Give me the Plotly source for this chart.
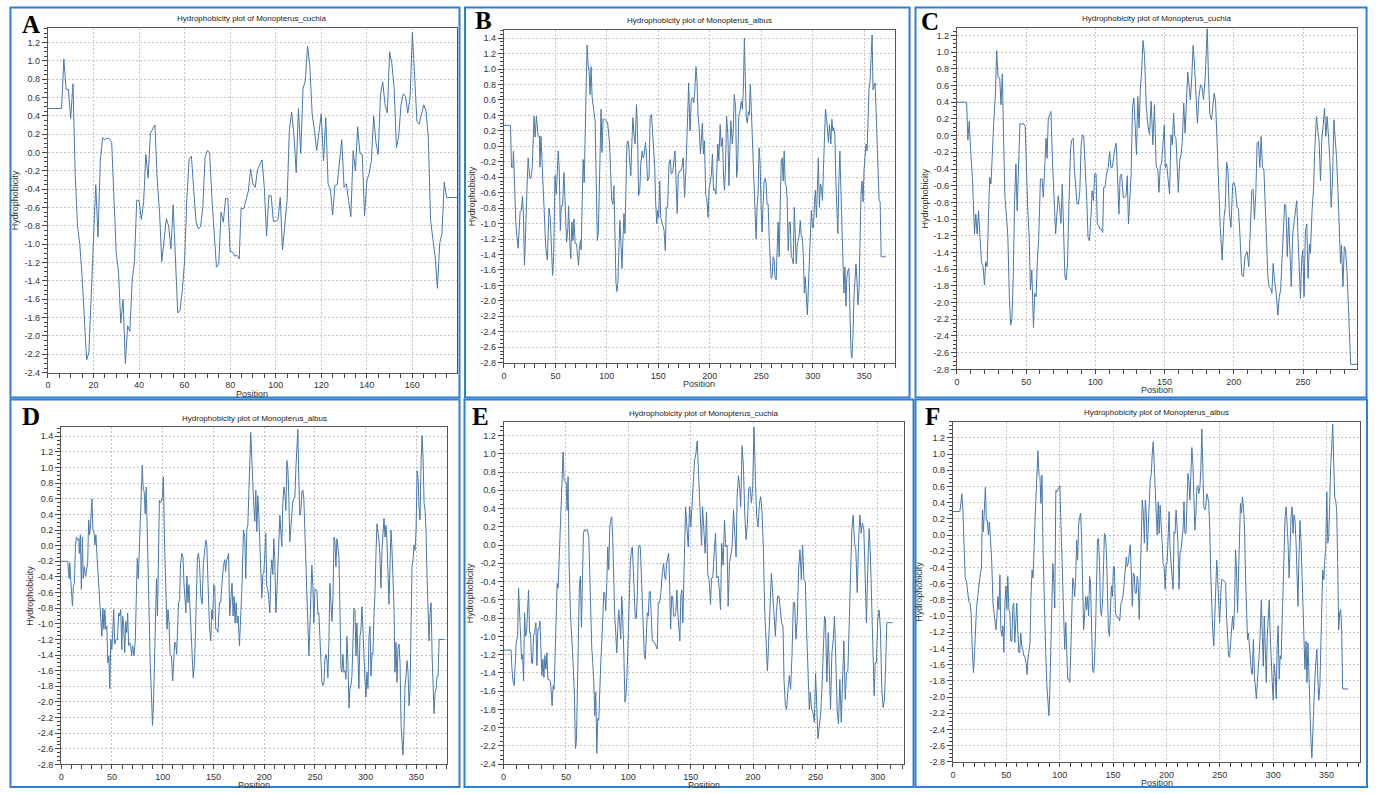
import plotly.graph_objects as go

# ---------------- data ----------------
TITLES = ["Hydrophobicity plot of Monopterus_cuchia", "Hydrophobicity plot of Monopterus_albus",
          "Hydrophobicity plot of Monopterus_cuchia", "Hydrophobicity plot of Monopterus_albus",
          "Hydrophobicity plot of Monopterus_cuchia", "Hydrophobicity plot of Monopterus_albus"]
LETTERS = ["A", "B", "C", "D", "E", "F"]

A_pos = [0, 6, 7, 8, 9, 10, 11, 12, 13, 14, 15, 16, 17, 18, 19, 20, 21, 22, 23, 24, 25, 26, 27, 28, 29, 30, 31, 32, 33, 34,
         35, 36, 37, 38, 39, 40, 41, 42, 43, 44, 45, 46, 47, 48, 49, 50, 51, 52, 53, 54, 55, 56, 57, 58, 59, 60, 61, 62, 63,
         64, 65, 66, 67, 68, 69, 70, 71, 72, 73, 74, 75, 76, 77, 78, 79, 80, 81, 82, 83, 84, 84.8, 86, 88, 89, 90, 91, 92,
         93, 94, 95, 96, 97, 98, 99, 100, 101, 102, 103, 104, 105, 106, 107, 108, 109, 110, 111, 112, 113, 114, 115, 116,
         117, 118, 119, 120, 121, 122, 123, 124, 125, 126, 127, 128, 129, 130, 131, 132, 133, 134, 135, 136, 137, 138, 139,
         140, 141, 142, 143, 144, 145, 146, 147, 148, 149, 150, 151, 152, 153, 154, 155, 156, 157, 158, 159, 160, 161, 162,
         163, 164, 165, 166, 167, 168, 169, 170, 171, 172, 173, 174, 175, 180]
A_hyd = [0.48, 0.48, 1.02, 0.69, 0.69, 0.37, 0.75, -0.25, -0.8, -1.0, -1.35, -1.75, -2.26, -2.18, -1.5, -0.9, -0.35, -0.92,
         -0.1, 0.16, 0.14, 0.16, 0.15, 0.11, -0.5, -1.1, -1.3, -1.86, -1.6, -2.3, -1.89, -1.95, -1.39, -1.19, -0.52, -0.52,
         -0.73, -0.55, -0.02, -0.28, 0.21, 0.25, 0.3, -0.3, -0.65, -1.19, -0.95, -0.72, -0.8, -1.05, -0.57, -1.2, -1.75,
         -1.72, -1.5, -1.19, -0.5, -0.07, -0.04, -0.4, -0.75, -0.83, -0.81, -0.6, -0.05, 0.02, 0.0, -0.5, -0.95, -1.25,
         -1.22, -0.65, -0.76, -0.5, -0.5, -1.08, -1.08, -1.13, -1.12, -1.16, -0.61, -0.61, -0.42, -0.18, -0.34, -0.38,
         -0.19, -0.14, -0.08, -0.38, -0.91, -0.47, -0.47, -0.75, -0.75, -0.73, -0.49, -1.06, -0.78, -0.52, 0.25, 0.44, 0.2,
         -0.22, 0.48, -0.01, 0.7, 0.78, 1.16, 0.94, 0.42, 0.25, 0.02, 0.24, 0.42, -0.09, 0.38, -0.34, -0.4, -0.68, -0.36,
         -0.35, -0.13, 0.14, -0.38, -0.34, -0.52, -0.7, 0.02, -0.2, 0.28, -0.01, -0.02, -0.69, -0.31, -0.23, -0.09, 0.4,
         0.11, -0.02, 0.63, 0.77, 0.52, 0.43, 1.1, 0.97, 0.7, 0.05, 0.18, 0.52, 0.64, 0.61, 0.43, 0.6, 1.31, 0.88, 0.34,
         0.31, 0.43, 0.52, 0.45, 0.16, -0.74, -0.92, -1.14, -1.48, -0.99, -0.88, -0.32, -0.49, -0.49]

B_pts = [(0, 0.27), (6.4, 0.27), (7.4, -0.27), (8.7, -0.28), (9.3, -0.06), (10.6, -0.83), (11.6, -1.0), (12.9, -1.2),
         (13.8, -1.32), (15.8, -0.84), (17, -0.83), (18, -0.65), (19, -0.92), (20, -1.54), (21.3, -0.79), (22.2, -0.65),
         (23.5, -0.15), (25, -0.4), (26, -0.42), (27.4, -0.3), (29.3, 0.39), (30.3, 0.12), (31.6, 0.39), (33.2, 0.13),
         (34.5, 0.13), (35, -0.27), (36, 0.13), (37.4, -0.36), (38.3, -0.66), (39.6, -0.92), (40.6, -1.3), (42.2, -1.47),
         (43.8, -0.8), (45, -0.92), (46.4, -1.47), (47.3, -1.67), (48.3, -1.43), (49.6, -0.38), (50.9, -0.62),
         (51.9, -0.32), (52.8, -0.06), (53.8, -0.32), (54.8, -1.09), (55.7, -0.77), (57, -0.77), (58.3, -0.34),
         (59.3, -0.62), (60.9, -1.24), (62.2, -1.05), (62.8, -0.77), (64.1, -1.28), (65, -1.45), (66, -0.98), (67, -1.22),
         (68, -0.94), (69.2, -1.26), (70.5, -1.26), (71.8, -1.43), (72.5, -1.54), (73.4, -1.32), (74.4, -1.22),
         (75, -1.34), (76, -0.75), (77, -0.17), (78, -0.47), (78.9, 0.2), (79.9, 0.67), (80.8, 1.31), (81.8, 1.05),
         (82.8, 0.97), (83.7, 0.67), (84.7, 1.03), (85.7, 0.63), (87, 0.5), (88.6, 0.33), (89.5, -0.32), (90.8, -1.22),
         (91.8, -1.09), (93, -0.23), (94.4, 0.48), (95.3, -0.08), (96.3, 0.35), (97.6, 0.35), (99.5, 0.33), (100.8, 0.3),
         (102.7, 0.03), (104.7, -0.7), (106, -0.75), (106.9, -0.51), (107.9, -1.43), (108.9, -1.77), (109.8, -1.88),
         (110.8, -1.75), (111.8, -1.3), (112.7, -0.96), (113.7, -1.26), (114.7, -1.58), (115.6, -1.22), (116.6, -0.87),
         (117.6, -1.13), (118.8, -0.49), (119.5, 0.03), (120.8, 0.07), (122, -0.23), (123.3, -0.38), (124.3, 0.05),
         (125.3, 0.37), (126.6, 0.11), (127.5, 0.03), (128.8, 0.54), (129.8, 0.2), (130.8, -0.64), (132, -0.57),
         (133, -0.23), (134.3, -0.06), (135.3, -0.15), (136.2, -0.12), (137.5, 0.05), (138.5, -0.1), (139.5, -0.45),
         (141, -0.4), (142, 0.37), (143.3, 0.41), (144.3, 0.22), (145.2, -0.02), (146.5, -0.27), (147.5, -0.75),
         (148.5, -1.0), (149.4, -0.83), (150.4, -0.92), (151.4, -0.45), (152.3, -0.92), (154, -1.0), (155.6, -1.09),
         (156.8, -1.35), (157.8, -0.79), (159, -0.79), (160.4, -0.23), (161.7, -0.17), (162.6, -0.36), (163.9, -0.34),
         (165.2, -0.15), (166.2, -0.06), (167.1, -0.4), (168.4, -0.87), (169.4, -0.36), (170.7, -0.32), (171.7, -0.32),
         (172.9, -0.27), (174.2, -0.15), (175.5, -0.66), (176.8, -0.32), (178.1, 0.37), (179.5, 0.82), (180.5, 0.28),
         (181, 0.2), (182, 0.6), (183.4, 0.63), (184.4, 0.56), (185.3, 0.69), (186.6, 1.03), (187.6, 0.84), (188.6, 0.41),
         (189.9, 0.2), (190.9, -0.1), (191.9, 0.11), (192.8, 0.3), (193.8, -0.1), (194.8, 0.07), (196.1, -0.64),
         (197, -0.66), (198.4, -0.92), (199.3, -0.55), (200.3, -0.49), (201.6, -0.36), (202.6, -0.1), (203.6, -0.57),
         (204.9, -0.55), (205.9, -0.62), (206.8, -0.32), (207.8, 0.03), (208.8, -0.19), (210.1, 0.28), (211.1, 0.0),
         (212.4, 0.11), (213.4, -0.4), (214.3, -0.57), (215.3, -0.27), (216.3, 0.39), (217.6, 0.15), (218.6, -0.51),
         (219.5, -0.06), (220.5, 0.33), (221.8, 0.03), (222.8, 0.18), (223.8, 0.67), (225.1, 0.5), (226.1, -0.4),
         (227, -0.27), (228.3, 0.41), (229.3, 0.45), (230.6, 0.58), (231.6, 0.48), (232.6, 0.71), (233.6, 1.4),
         (234.5, 0.88), (235.5, 0.37), (236.5, 0.3), (237.5, 0.45), (238.4, 0.41), (239.4, 0.8), (240.4, 0.45),
         (241.7, 0.03), (243, -0.57), (244, -0.83), (245, -1.2), (245.9, -0.79), (246.9, -0.64), (247.9, -0.02),
         (248.9, -0.23), (249.8, -0.75), (250.8, -1.11), (251.8, -0.75), (252.8, -0.45), (253.7, -0.42), (254.7, -0.47),
         (255.7, -0.75), (256.7, -0.75), (257.7, -1.17), (258.6, -1.56), (259.6, -1.71), (260.6, -1.69), (261.6, -1.43),
         (262.5, -1.47), (263.5, -1.71), (264.5, -1.73), (265.5, -1.35), (266.4, -0.98), (267.4, -1.43), (268.4, -0.75),
         (269.4, -0.19), (270.4, -0.15), (271.3, -0.45), (272.3, -0.06), (273.3, -0.49), (274.3, -0.51), (275.2, -0.7),
         (276.2, -1.35), (277.2, -0.98), (278.2, -0.98), (279.2, -1.43), (280.1, -1.45), (281.1, -1.52), (282.1, -0.79),
         (283.1, -1.17), (284, -1.52), (285, -1.26), (286, -1.22), (287, -1.13), (287.9, -0.96), (288.9, -1.17),
         (289.9, -1.17), (290.9, -1.43), (291.9, -1.9), (292.8, -1.69), (293.8, -1.9), (294.8, -2.18), (295.8, -1.82),
         (296.7, -1.52), (297.7, -1.35), (298.7, -0.83), (299.7, -1.05), (300.7, -1.05), (301.6, -0.77), (302.6, -0.57),
         (303.6, -0.92), (304.6, -0.53), (305.5, -0.15), (306.5, -0.79), (307.5, -0.49), (308.5, -0.53), (309.5, -0.7),
         (310.4, -0.3), (311.4, 0.11), (312.4, 0.48), (313.4, 0.37), (314.3, 0.13), (315.3, 0.05), (316.3, 0.28),
         (317.6, 0.03), (318.6, 0.35), (319.5, 0.2), (320.5, 0.24), (321.5, 0.15), (322.5, -0.45), (323.5, -0.83),
         (324.4, -1.13), (325.4, -0.45), (326.4, -0.06), (327.4, -0.57), (328.4, -1.17), (329.3, -1.6), (330.3, -1.9),
         (331.3, -1.56), (332.3, -2.07), (333.2, -1.69), (334.2, -1.6), (335.2, -1.58), (336.2, -2.29), (337.1, -2.63),
         (338.1, -2.74), (339.1, -2.46), (340.1, -1.95), (341, -1.73), (342, -1.52), (343, -1.73), (344, -2.05),
         (345, -1.86), (345.9, -1.26), (346.9, -0.62), (347.9, -0.45), (348.9, -0.72), (349.8, -0.32), (350.8, -0.15),
         (351.8, 0.03), (352.8, -0.06), (353.7, 0.28), (354.7, 0.75), (355.7, 0.84), (356.7, 1.18), (357.7, 1.44),
         (358.6, 0.73), (359.6, 0.78), (360.6, 0.82), (361.6, 0.45), (362.5, 0.11), (363.5, -0.23), (364.5, -0.7),
         (365.5, -0.72), (366.5, -1.43), (371, -1.43)]

C_pts = [(0, 0.4), (7, 0.4), (7.9, -0.05), (8.9, 0.17), (9.8, -0.15), (11.2, -0.5), (12.7, -1.18), (13.6, -0.94),
         (14.6, -1.18), (15.6, -0.9), (16.7, -1.22), (17.7, -1.51), (18.9, -1.57), (19.9, -1.79), (20.8, -1.51),
         (21.8, -1.57), (22.7, -1.02), (23.7, -0.5), (24.6, -0.58), (25.6, -0.15), (26.6, 0.17), (27.8, 0.49),
         (28.7, 1.02), (29.7, 0.7), (30.9, 0.69), (31.8, 0.37), (32.8, 0.74), (33.7, -0.03), (34.7, -0.74), (35.9, -0.98),
         (36.8, -1.22), (37.8, -1.9), (38.8, -2.27), (39.7, -2.2), (40.7, -1.69), (41.6, -0.82), (42.6, -0.34),
         (43.5, -0.9), (44.5, -0.3), (45.5, 0.15), (46.7, 0.13), (47.8, 0.15), (49.3, 0.11), (50.2, -0.42), (51.2, -0.9),
         (52.2, -1.22), (53.1, -1.85), (54.1, -1.61), (55.3, -2.3), (56.2, -1.89), (57.2, -1.93), (58.1, -1.49),
         (59.1, -1.22), (60.3, -0.52), (61.5, -0.52), (62.4, -0.74), (63.4, -0.42), (64.4, -0.03), (65.1, -0.27),
         (66, 0.21), (67, 0.25), (67.9, 0.29), (69.1, -0.34), (70.3, -0.9), (71.3, -1.18), (72.2, -0.94), (73.2, -0.72),
         (74.2, -0.86), (75.1, -1.05), (76.1, -0.58), (77, -1.22), (78, -1.69), (78.9, -1.73), (79.9, -1.53),
         (80.9, -0.82), (82.1, -0.15), (83, -0.05), (84, -0.03), (84.9, -0.42), (85.9, -0.7), (86.8, -0.82),
         (87.8, -0.82), (88.8, -0.66), (89.7, -0.11), (90.7, 0.01), (91.6, -0.01), (92.6, -0.34), (93.8, -0.78),
         (94.7, -1.22), (95.7, -1.26), (96.7, -1.02), (97.6, -0.66), (98.6, -0.78), (99.5, -0.46), (100.5, -0.46),
         (101.4, -1.06), (102.4, -1.08), (103.3, -1.12), (104.5, -1.12), (105.3, -1.16), (106, -0.62), (106.9, -0.62),
         (108.1, -0.46), (109.3, -0.38), (110.3, -0.19), (111.2, -0.38), (112.2, -0.38), (113.2, -0.21), (114.1, -0.15),
         (115.1, -0.09), (116, -0.42), (117, -0.94), (117.9, -0.48), (118.9, -0.46), (120.1, -0.74), (121.3, -0.74),
         (122.2, -0.72), (123, -0.48), (123.9, -1.06), (124.9, -0.82), (125.8, -0.48), (126.8, 0.33), (127.8, 0.45),
         (128.7, 0.13), (129.7, -0.23), (130.6, 0.47), (131.6, 0.09), (132.5, 0.57), (133.3, 0.74), (134.4, 1.14),
         (135.5, 0.96), (136.7, 0.37), (137.9, 0.13), (139.1, 0.01), (140.3, 0.41), (141.5, -0.11), (142.7, 0.37),
         (143.9, -0.36), (145.2, -0.42), (145.9, -0.68), (146.9, -0.36), (147.8, -0.34), (148.8, -0.15), (149.8, 0.13),
         (150.5, -0.38), (151.5, -0.34), (152.4, -0.5), (153.6, -0.7), (154.6, 0.01), (155.6, -0.11), (156.5, 0.27),
         (157.3, -0.01), (158.2, -0.03), (159.2, -0.38), (159.9, -0.68), (160.9, -0.3), (161.9, -0.23), (162.8, -0.07),
         (163.8, 0.39), (164.8, 0.03), (165.7, 0.41), (166.7, 0.76), (167.7, 0.59), (168.6, 0.43), (169.6, 0.69),
         (170.6, 1.08), (171.5, 0.88), (172.5, 0.49), (173.7, 0.15), (174.7, 0.45), (175.9, 0.61), (177.1, 0.57),
         (178.1, 0.43), (179.3, 0.69), (180.8, 1.28), (181.7, 0.69), (182.7, 0.25), (183.9, 0.19), (185.1, 0.41),
         (185.8, 0.51), (186.8, 0.41), (187.8, -0.03), (189, -0.74), (190.2, -1.1), (191.6, -1.49), (192.9, -0.98),
         (193.8, -0.86), (194.8, -0.32), (195.8, -0.42), (196.7, -0.9), (197.9, -1.1), (199.2, -0.58), (200.1, -0.56),
         (201.1, -0.62), (202.3, -0.86), (203.3, -0.87), (204.5, -1.22), (205.7, -1.67), (206.9, -1.69), (208.1, -1.45),
         (209.6, -1.39), (210.8, -1.57), (211.7, -1.22), (213, -0.66), (213.9, -0.64), (214.9, -1.0), (215.9, -0.68),
         (216.8, -0.09), (217.8, -0.07), (218.8, -0.38), (219.7, -0.01), (220.7, -0.38), (221.7, -0.4), (222.6, -0.78),
         (223.6, -1.33), (224.6, -1.69), (225.5, -1.81), (226.5, -1.83), (227.5, -1.89), (228.4, -1.53), (229.4, -1.73),
         (230.6, -1.89), (231.8, -2.15), (232.8, -1.93), (233.8, -1.85), (234.7, -1.53), (235.7, -1.22), (236.7, -0.82),
         (237.6, -0.84), (238.6, -1.45), (239.6, -0.98), (240.6, -1.45), (241.5, -1.81), (242.5, -1.18), (243.5, -1.06),
         (244.4, -0.94), (245.4, -0.78), (246.4, -1.22), (247.3, -1.53), (248.1, -1.95), (249, -1.49), (249.8, -1.37),
         (250.7, -1.93), (251.7, -1.14), (252.7, -1.06), (253.6, -1.71), (254.6, -1.3), (255.3, -1.41), (256.5, -0.9),
         (257.5, -0.66), (258.5, -0.15), (259.7, 0.23), (260.7, 0.05), (261.6, -0.07), (262.6, -0.54), (263.6, -0.03),
         (264.5, 0.11), (265.5, 0.33), (266.5, -0.01), (267.4, 0.23), (268.4, -0.01), (269.4, -0.3), (270.3, -0.86),
         (271.3, -0.52), (272.3, 0.19), (273.2, 0.01), (274.2, -0.27), (275.2, -0.66), (276.1, -1.06), (277.1, -1.53),
         (277.8, -1.31), (278.8, -1.81), (279.8, -1.33), (280.7, -1.37), (281.7, -1.61), (282.7, -2.01), (283.7, -2.4),
         (284.4, -2.74), (289.2, -2.74)]

D_pts = [(0, -0.2), (6.5, -0.2), (7.8, -0.42), (8.5, -0.22), (9.5, -0.46), (10.4, -0.67), (11.1, -0.77), (12, -0.52),
         (13, -0.48), (14, -0.01), (15, 0.11), (16.3, 0.07), (17.3, 0.09), (17.9, -0.1), (18.9, 0.14), (19.9, -0.56),
         (20.9, 0.11), (21.8, -0.42), (22.8, -0.27), (24.1, -0.39), (25.1, -0.31), (26.1, -0.22), (27.1, 0.33), (28, 0.14),
         (29, 0.28), (30.3, 0.6), (31.3, 0.2), (32.3, 0.18), (33.3, 0.01), (34.2, 0.14), (35.5, -0.18), (36.5, -0.42),
         (37.8, -0.73), (39.1, -1.07), (40.1, -1.16), (41.1, -0.8), (42.1, -1.07), (43, -0.82), (44, -1.07), (45, -1.03),
         (46, -1.5), (47, -1.41), (47.9, -1.83), (48.9, -1.2), (49.9, -1.33), (50.9, -1.07), (51.8, -0.82), (52.8, -1.26),
         (54.1, -1.2), (55.4, -1.2), (56.7, -0.86), (57.7, -0.9), (58.7, -0.82), (59.7, -1.33), (60.6, -0.9),
         (61.6, -1.03), (62.6, -1.37), (63.6, -0.97), (64.6, -1.11), (65.5, -0.86), (66.5, -1.28), (67.5, -1.24),
         (68.5, -1.28), (69.4, -1.41), (70.4, -1.28), (71.7, -1.41), (73, -1.22), (74, -0.69), (75, -0.16), (76, -0.42),
         (77, -0.06), (77.9, 0.37), (78.9, 0.75), (79.9, 1.03), (80.9, 0.71), (81.8, 0.69), (82.8, 0.41), (83.8, 0.75),
         (85.1, 0.03), (86.4, -0.82), (87.7, -1.5), (89, -1.92), (90, -2.3), (91, -2.0), (91.9, -1.41), (92.9, -0.82),
         (93.9, -0.42), (94.9, -0.9), (95.9, -0.01), (96.8, 0.58), (97.8, 0.55), (98.8, 0.57), (99.8, 0.62), (100.7, 0.88),
         (101.7, 0.11), (103, -0.65), (104.3, -1.07), (105.3, -0.82), (106.3, -0.99), (107.3, -1.39), (108.6, -1.41),
         (109.9, -1.73), (110.9, -1.5), (111.8, -1.24), (112.8, -1.24), (113.8, -1.39), (114.8, -1.03), (115.7, -0.73),
         (116.7, -0.69), (117.7, -0.22), (119, -0.1), (120, -0.14), (121, -0.48), (121.9, -0.61), (122.9, -0.86),
         (123.9, -0.39), (124.9, -0.73), (125.9, -0.5), (126.8, -0.82), (127.8, -0.99), (129.1, -1.41), (130.1, -1.69),
         (131.4, -1.5), (132.4, -1.07), (133.4, -0.48), (134.3, -0.14), (135.3, -0.1), (136.3, -0.22), (137.6, -0.65),
         (138.9, -0.75), (140.2, -0.22), (141.5, 0.01), (142.5, 0.07), (143.5, 0.01), (144.8, -0.52), (146.1, -1.03),
         (147.4, -1.22), (148.4, -0.82), (149.3, -0.94), (150.3, -0.5), (151.3, -0.52), (152.3, -1.07), (153.2, -1.07),
         (154.5, -1.11), (155.9, -0.73), (157.2, -0.73), (158.5, -0.48), (159.8, -0.27), (161.1, -0.18), (162, -0.33),
         (163, -0.2), (164, -0.14), (165, -0.1), (166, -0.9), (166.9, -0.69), (168.4, -0.48), (169.4, -0.9),
         (170.4, -0.65), (171.4, -0.99), (172.4, -0.73), (173.4, -0.99), (174.3, -0.9), (175.7, -1.28), (177, -0.86),
         (178.3, -0.48), (179.6, 0.2), (180.9, 0.11), (181.9, -0.42), (182.9, 0.2), (183.9, 0.26), (184.9, 0.67),
         (185.9, 1.03), (186.8, 1.45), (187.8, 1.13), (188.8, 0.71), (189.8, 0.5), (190.8, 0.31), (191.8, 0.71),
         (192.8, 0.18), (193.8, 0.64), (194.7, 0.41), (195.7, -0.01), (196.7, -0.52), (197.7, -0.67), (198.7, -0.37),
         (199.7, -0.35), (200.7, -0.1), (201.6, 0.16), (202.6, -0.52), (203.6, -0.56), (204.6, -0.69), (205.6, -0.86),
         (206.6, -0.33), (207.6, -0.18), (208.6, -0.37), (209.5, 0.09), (210.5, -0.18), (211.5, -0.86), (212.5, -0.61),
         (213.5, -0.22), (214.5, -0.06), (215.5, 0.39), (216.4, 0.2), (217.4, -0.01), (218.4, 0.54), (219.4, 0.75),
         (220.4, 0.67), (221.4, 0.45), (222.4, 1.09), (223.4, 0.98), (224.3, 0.62), (225.3, 0.05), (226.3, 0.22),
         (227.3, 0.5), (228.3, 0.58), (229.3, 0.6), (230.3, 0.62), (231.3, 1.0), (232.2, 1.17), (233.2, 1.49),
         (234.2, 0.83), (235.2, 0.39), (236.2, 0.45), (237.2, 0.69), (238.2, 0.71), (239.1, 0.6), (240.1, 0.2),
         (241.1, -0.22), (242.1, -0.82), (243.1, -1.16), (244.1, -1.41), (245.1, -1.03), (246.1, -0.65), (247, -0.25),
         (248, -0.52), (249, -0.99), (250, -0.56), (251, -0.56), (252, -0.58), (253, -0.88), (253.9, -0.86),
         (254.9, -1.16), (255.9, -1.58), (256.9, -1.75), (257.9, -1.79), (258.9, -1.75), (259.9, -1.45), (260.9, -1.39),
         (261.8, -1.45), (262.8, -1.69), (263.8, -1.24), (264.8, -0.48), (265.8, -0.73), (266.8, -0.97), (267.8, -0.65),
         (268.8, 0.11), (269.7, 0.07), (270.7, -0.27), (271.7, 0.09), (272.7, -0.03), (273.7, -0.14), (274.7, -0.82),
         (275.7, -1.58), (276.6, -1.62), (277.6, -1.39), (278.6, -1.62), (279.6, -1.6), (280.6, -1.71), (281.6, -1.16),
         (282.6, -1.5), (283.6, -2.08), (284.5, -1.83), (285.5, -1.79), (286.5, -1.67), (287.5, -1.33), (288.5, -0.8),
         (289.5, -0.82), (290.5, -1.41), (291.4, -0.99), (292.4, -1.54), (293.4, -1.83), (294.4, -1.16), (295.4, -1.07),
         (296.4, -0.78), (297.4, -1.16), (298.4, -1.5), (299.3, -1.71), (300.3, -1.94), (301.3, -1.62), (302.3, -1.83),
         (303.3, -1.16), (304.3, -1.03), (305.3, -1.67), (306.3, -1.37), (307.2, -1.39), (308.2, -0.9), (309.2, -0.61),
         (310.2, -0.1), (311.2, 0.28), (312.2, 0.16), (313.2, 0.07), (314.1, -0.14), (315.1, -0.54), (316.1, -0.06),
         (317.1, 0.26), (318.1, 0.35), (319.1, 0.11), (320.1, 0.26), (321.1, 0.03), (322, -0.48), (323, -0.75),
         (324, -0.27), (325, 0.2), (326, -0.06), (327, -0.35), (328, -0.82), (328.9, -1.62), (329.9, -1.24),
         (330.9, -1.75), (331.9, -1.31), (332.9, -1.26), (333.9, -1.5), (334.9, -2.3), (335.9, -2.53), (336.8, -2.68),
         (337.8, -2.34), (338.8, -1.79), (339.8, -1.67), (340.8, -1.47), (341.8, -1.62), (342.8, -2.05), (343.8, -1.83),
         (344.7, -1.07), (345.7, -0.27), (346.7, -0.18), (347.7, 0.01), (348.7, -0.06), (349.7, 0.2), (350.7, 0.96),
         (351.6, 0.88), (352.6, 0.5), (353.6, 0.33), (354.6, 1.05), (355.6, 1.41), (356.6, 1.13), (357.6, 0.54),
         (358.6, 0.45), (359.5, 0.2), (360.5, -0.39), (361.5, -0.9), (362.5, -1.22), (363.5, -0.86), (364.5, -0.73),
         (365.5, -1.41), (366.4, -1.75), (367.4, -2.15), (368.4, -1.88), (369.4, -1.83), (370.4, -1.67), (371.4, -1.67),
         (372.4, -1.2), (377.6, -1.2)]

E_pts = [(0, -1.15), (6, -1.15), (6.7, -1.36), (7.5, -1.49), (8.5, -1.54), (9.3, -1.36), (10.1, -1.07), (11.2, -1.0),
         (12, -0.47), (12.8, -0.74), (13.6, -1.14), (14.4, -1.25), (15.2, -1.2), (16, -1.49), (16.8, -0.74), (17.6, -1.0),
         (18.4, -0.96), (19.2, -0.74), (20, -0.49), (20.8, -0.96), (21.6, -0.96), (22.4, -1.29), (23.2, -1.3), (24, -1.0),
         (24.8, -0.96), (25.9, -0.85), (26.7, -1.32), (27.5, -0.92), (28.3, -0.92), (29.1, -0.83), (29.9, -1.25),
         (30.7, -1.43), (31.5, -1.25), (32.3, -1.45), (33.1, -1.21), (33.9, -1.36), (34.7, -1.18), (35.5, -1.47),
         (36.5, -1.47), (37.6, -1.5), (38.4, -1.65), (38.9, -1.76), (39.7, -1.54), (40.5, -1.58), (41.3, -1.21),
         (42.1, -0.85), (42.9, -0.42), (43.7, -0.47), (44.5, -0.13), (45.3, 0.17), (46.1, 0.42), (46.9, 0.71), (47.7, 1.02),
         (48.5, 0.71), (49.3, 0.69), (50.1, 0.69), (50.9, 0.38), (51.7, 0.75), (52.5, -0.2), (53.6, -0.74), (54.7, -1.0),
         (55.7, -1.29), (56.8, -1.65), (57.6, -2.23), (58.4, -2.14), (59.2, -1.5), (60, -0.92), (60.8, -0.42),
         (61.6, -0.34), (62.4, -0.9), (63.2, -0.38), (64, 0.13), (64.8, 0.17), (65.6, 0.15), (66.4, 0.17), (67.2, 0.17),
         (68.3, 0.09), (69.1, -0.38), (69.9, -0.85), (70.7, -1.14), (71.5, -1.29), (72.3, -1.5), (73.1, -1.87),
         (73.9, -1.61), (74.7, -2.28), (75.5, -1.9), (76.3, -1.92), (77.1, -1.47), (77.9, -1.29), (78.7, -1.07),
         (79.5, -0.63), (80.3, -0.52), (81.1, -0.52), (81.9, -0.72), (82.7, -0.42), (83.5, -0.02), (84.3, -0.27),
         (85.1, 0.2), (85.9, 0.27), (86.7, 0.31), (87.5, 0.06), (88.3, -0.42), (89.1, -0.78), (89.9, -0.96), (90.7, -1.18),
         (91.5, -0.92), (92.3, -0.71), (93.1, -0.85), (93.9, -1.03), (94.7, -0.56), (95.5, -0.78), (96.5, -1.25),
         (97.3, -1.72), (98.1, -1.65), (98.9, -1.43), (100, -0.96), (100.8, -0.42), (101.6, -0.2), (102.4, -0.05),
         (103.2, -0.02), (104, -0.27), (104.8, -0.56), (105.6, -0.81), (106.4, -0.8), (107.2, -0.56), (108, -0.05),
         (108.8, 0.0), (109.6, -0.02), (110.4, -0.34), (111.2, -0.74), (112, -1.0), (112.8, -1.21), (113.6, -1.25),
         (114.4, -0.92), (115.2, -0.74), (116, -0.78), (116.8, -0.51), (117.6, -0.51), (118.4, -0.85), (119.2, -1.05),
         (120.3, -1.05), (121.3, -1.09), (122.4, -1.11), (123.2, -1.14), (124, -0.63), (125.1, -0.63), (126.1, -0.52),
         (127.2, -0.31), (128.3, -0.2), (129.1, -0.34), (129.9, -0.38), (130.7, -0.2), (131.5, -0.16), (132.3, -0.09),
         (133.1, -0.42), (133.9, -0.92), (134.7, -0.56), (135.5, -0.56), (136.3, -0.78), (137.3, -0.78), (138.1, -0.74),
         (138.9, -0.49), (139.7, -0.74), (140.5, -0.92), (141.3, -1.05), (142.1, -0.56), (142.9, -0.49), (143.7, -0.85),
         (144.8, -0.2), (145.9, 0.42), (148, -0.02), (149.1, 0.42), (150.1, 0.2), (151.2, 0.49), (152, 0.71),
         (153.1, 0.93), (154.1, 1.0), (155.2, 1.14), (156.3, 0.78), (157.3, 0.42), (158.7, 0.0), (159.5, 0.42),
         (160.5, 0.17), (161.6, -0.09), (162.7, 0.36), (163.7, -0.32), (164.8, -0.38), (165.9, -0.65), (166.7, -0.36),
         (167.7, -0.36), (168.8, -0.09), (169.9, 0.13), (170.9, -0.36), (172, -0.34), (173.1, -0.52), (173.9, -0.71),
         (174.9, 0.02), (176, -0.22), (177.1, 0.27), (178.1, -0.02), (179.2, 0.0), (180, -0.67), (181.1, -0.2),
         (182.1, -0.13), (183.2, -0.02), (184.3, 0.38), (185.3, 0.06), (186.4, -0.13), (187.2, 0.53), (188.3, 0.76),
         (189.3, 0.62), (190.1, 0.42), (191.2, 1.09), (192.3, 0.85), (193.3, 0.35), (194.4, 0.06), (195.5, 0.24),
         (196.5, 0.62), (197.6, 0.64), (198.7, 0.46), (199.7, 0.64), (200.8, 1.29), (201.9, 0.71), (202.9, 0.31),
         (204, 0.2), (205.1, 0.46), (206.1, 0.53), (207.2, 0.36), (208.3, -0.05), (209.3, -0.71), (210.4, -1.03),
         (211.5, -1.38), (212.5, -1.07), (213.6, -0.71), (214.7, -0.31), (215.7, -0.52), (216.8, -0.71), (217.9, -1.0),
         (218.7, -0.74), (219.7, -0.56), (220.8, -0.56), (221.9, -0.71), (222.9, -0.85), (224, -0.89), (224.8, -1.47),
         (225.9, -1.76), (226.9, -1.8), (228, -1.58), (229.1, -1.43), (230.1, -1.58), (231.2, -1.21), (232.3, -0.63),
         (233.3, -0.63), (234.4, -1.03), (235.5, -0.78), (236.5, -0.27), (237.6, -0.05), (238.7, -0.38), (239.7, 0.0),
         (240.8, -0.38), (241.9, -0.4), (242.9, -0.92), (244, -1.5), (245.1, -1.8), (245.9, -1.61), (246.9, -1.8),
         (248, -1.83), (249.1, -1.94), (250.1, -1.4), (251.2, -1.87), (252, -2.12), (253.1, -1.98), (254.1, -1.87),
         (255.2, -1.58), (256.3, -1.21), (257.3, -0.78), (258.1, -0.81), (259.2, -1.5), (260.3, -0.96), (261.3, -1.58),
         (262.1, -1.8), (263.2, -1.18), (264.3, -1.03), (265.3, -0.78), (266.4, -1.5), (267.5, -1.83), (268.5, -1.96),
         (269.6, -1.47), (270.7, -1.94), (271.7, -1.4), (272.8, -1.05), (273.9, -1.69), (274.9, -1.4), (276, -1.38),
         (277.1, -0.92), (278.1, -0.45), (279.2, 0.17), (280.3, 0.33), (281.3, 0.02), (282.4, -0.05), (283.5, -0.52),
         (284.5, 0.0), (285.6, 0.33), (286.7, 0.13), (287.7, 0.24), (288.8, 0.17), (289.9, -0.38), (290.9, -0.85),
         (292, -0.23), (293.1, 0.18), (294.1, -0.13), (295.2, -0.71), (296.3, -1.21), (297.1, -1.65), (297.9, -1.29),
         (298.9, -1.29), (300, -0.81), (301.1, -0.71), (302.1, -0.92), (303.2, -1.58), (304.3, -1.78), (305.3, -1.69),
         (306.4, -1.29), (307.2, -0.85), (312, -0.85)]

F_pts = [(0, 0.29), (6.5, 0.29), (7.4, 0.39), (8.4, 0.51), (9.3, 0.31), (10.2, -0.02), (11.5, -0.53), (12.7, -0.57),
         (13.9, -0.76), (14.9, -0.82), (16.1, -0.84), (17, -0.96), (18, -1.37), (19.2, -1.7), (20.1, -1.49), (21.1, -1.04),
         (22, -0.92), (23.2, -0.76), (24.2, -0.63), (25.4, -0.51), (26.7, -0.41), (27.6, 0.31), (28.5, 0.04), (29.4, 0.35),
         (30.4, 0.59), (31.3, 0.18), (32.2, 0.18), (33.2, 0.0), (34.1, 0.16), (35, -0.02), (36.3, -0.31), (37.5, -0.84),
         (38.4, -0.96), (39.4, -1.04), (40.3, -1.17), (41.2, -1.0), (42.1, -0.76), (43.1, -0.92), (44, -0.49),
         (44.9, -1.17), (45.9, -1.25), (46.8, -1.12), (47.7, -1.45), (48.7, -0.84), (49.6, -0.63), (50.5, -0.92),
         (51.4, -0.51), (52.4, -0.92), (53.3, -0.96), (54.2, -1.31), (55.2, -1.31), (56.1, -0.88), (57, -0.84),
         (57.9, -1.33), (58.9, -1.12), (59.8, -0.84), (60.7, -1.17), (61.7, -1.45), (62.6, -1.45), (63.5, -1.21),
         (64.5, -1.37), (65.4, -1.41), (66.3, -1.49), (67.2, -1.49), (68.5, -1.57), (69.4, -1.72), (70.3, -1.53),
         (71.3, -1.45), (72.2, -1.33), (73.1, -0.76), (74.1, -0.43), (75, -0.53), (75.9, -0.1), (76.9, 0.18), (77.8, 0.47),
         (78.7, 0.8), (79.6, 1.04), (80.6, 0.74), (81.5, 0.72), (82.4, 0.39), (83.4, 0.74), (84.3, -0.1), (85.5, -0.84),
         (86.8, -1.41), (88, -1.86), (88.9, -2.13), (89.9, -2.23), (90.8, -1.9), (91.7, -1.49), (92.7, -0.92),
         (93.6, -0.35), (94.5, -0.59), (95.4, -0.9), (96.4, 0.55), (97.3, 0.53), (98.2, 0.57), (99.2, 0.57), (100.1, 0.61),
         (101, 0.22), (102, -0.43), (102.9, -0.67), (103.8, -1.29), (104.7, -1.41), (105.7, -1.08), (106.6, -1.35),
         (107.5, -1.78), (108.5, -1.78), (109.4, -1.82), (110.3, -1.49), (111.2, -0.84), (112.2, -0.53), (113.1, -0.59),
         (114, -0.76), (115, -0.51), (115.9, -0.06), (116.8, -0.31), (117.8, 0.14), (118.7, 0.22), (119.6, 0.27),
         (120.5, -0.02), (121.5, -0.67), (122.4, -1.17), (123.3, -1.0), (124.3, -0.76), (125.2, -0.92), (126.1, -0.76),
         (127.1, -1.0), (128, -0.51), (128.9, -0.59), (129.8, -1.17), (130.8, -1.66), (131.7, -1.7), (132.6, -1.57),
         (133.6, -1.17), (134.5, -0.59), (135.4, -0.06), (136.3, -0.04), (137.3, -0.35), (138.2, -0.92), (139.1, -1.0),
         (140.1, -0.84), (141, -0.27), (141.9, 0.02), (142.9, -0.02), (143.8, -0.22), (144.7, -0.67), (145.6, -1.17),
         (146.6, -1.25), (147.5, -1.0), (148.4, -0.63), (149.4, -0.76), (150.3, -0.39), (151.2, -0.39), (152.2, -0.96),
         (153.1, -1.0), (154, -1.02), (154.9, -1.02), (156.2, -1.06), (157.4, -0.84), (158.7, -0.8), (159.9, -0.67),
         (161.1, -0.47), (162.4, -0.27), (163.3, -0.39), (164.2, -0.35), (165.2, -0.22), (166.1, -0.12), (167, -0.43),
         (168, -0.88), (168.9, -0.47), (169.8, -0.49), (170.7, -0.72), (171.7, -0.72), (172.6, -0.51), (173.5, -0.59),
         (174.5, -1.04), (175.4, -0.59), (176.3, -0.02), (177.3, 0.43), (178.2, 0.31), (179.3, -0.1), (180.2, 0.43),
         (181.1, 0.27), (182, -0.2), (183, 0.22), (183.9, 0.39), (184.8, 0.67), (185.8, 0.76), (186.7, 1.0), (187.6, 1.15),
         (188.5, 0.88), (189.5, 0.47), (190.4, 0.27), (191.3, 0.0), (192.3, 0.41), (193.2, 0.02), (194.1, 0.37),
         (195, 0.02), (196, -0.1), (196.9, -0.35), (197.8, -0.39), (198.8, -0.67), (199.7, -0.35), (200.6, -0.35),
         (201.5, -0.06), (202.5, 0.29), (203.4, -0.18), (204.3, -0.31), (205.3, -0.47), (206.2, -0.67), (207.1, 0.04),
         (208, 0.02), (209, 0.31), (209.9, 0.1), (210.8, -0.1), (211.8, -0.67), (212.7, -0.22), (213.6, -0.18),
         (214.6, -0.02), (215.5, 0.06), (216.4, 0.41), (217.3, 0.02), (218.3, 0.02), (219.2, 0.47), (220.1, 0.76),
         (221.1, 0.65), (222, 0.43), (222.9, 0.76), (223.8, 1.08), (224.8, 0.86), (225.7, 0.47), (226.6, 0.06),
         (227.6, 0.27), (228.5, 0.59), (229.4, 0.61), (230.3, 0.51), (231.3, 0.59), (232.2, 0.8), (233.1, 1.31),
         (234.1, 0.67), (235, 0.35), (235.9, 0.31), (236.8, 0.35), (237.8, 0.51), (238.7, 0.47), (239.6, 0.39),
         (240.6, 0.06), (241.5, -0.47), (242.4, -0.88), (243.3, -1.17), (244.3, -1.37), (245.2, -0.96), (246.1, -0.76),
         (247.1, -0.31), (248, -0.55), (248.9, -0.84), (249.8, -1.08), (250.8, -0.76), (251.7, -0.55), (252.6, -0.55),
         (253.6, -0.57), (254.5, -0.57), (255.4, -0.59), (256.3, -1.0), (257.3, -1.37), (258.2, -1.49), (259.1, -1.51),
         (260.1, -1.29), (261, -1.17), (261.9, -1.0), (262.8, -1.17), (263.8, -0.88), (264.7, -0.18), (265.6, -0.43),
         (266.6, -0.96), (267.5, -0.51), (268.4, 0.06), (269.3, 0.39), (270.3, 0.27), (271.2, 0.47), (272.1, 0.35),
         (273.1, 0.1), (274, -0.47), (274.9, -0.92), (275.9, -1.29), (276.8, -1.21), (277.7, -1.41), (278.6, -1.49),
         (279.6, -1.7), (280.5, -1.72), (281.4, -1.29), (282.4, -1.74), (283.3, -1.86), (284.2, -2.02), (285.1, -1.82),
         (286.1, -1.66), (287, -1.45), (287.9, -1.17), (288.9, -0.8), (289.8, -1.25), (290.7, -1.62), (291.6, -1.0),
         (292.6, -1.33), (293.5, -1.82), (294.4, -1.25), (295.4, -0.96), (296.3, -0.8), (297.2, -1.25), (298.1, -1.59),
         (299.1, -1.82), (300, -2.04), (300.9, -1.59), (301.9, -1.74), (302.8, -2.02), (303.7, -1.37), (304.6, -1.12),
         (305.6, -1.78), (306.5, -1.49), (307.4, -1.53), (308.4, -1.08), (309.3, -0.8), (310.2, -0.27), (311.1, 0.22),
         (312.1, 0.35), (313, 0.14), (313.9, -0.1), (314.9, -0.53), (315.8, -0.1), (316.7, 0.22), (317.6, 0.35),
         (318.6, 0.02), (319.5, 0.25), (320.4, 0.18), (321.4, -0.1), (322.3, -0.72), (323.2, -0.88), (324.1, -0.27),
         (325.1, 0.18), (326, -0.06), (326.9, -0.51), (327.9, -0.84), (328.8, -1.29), (329.7, -1.66), (330.7, -1.31),
         (331.6, -1.82), (332.5, -1.33), (333.4, -1.78), (334.4, -2.23), (335.3, -2.52), (336.2, -2.75), (337.2, -2.36),
         (338.1, -1.9), (339, -1.78), (339.9, -1.57), (340.9, -1.41), (341.8, -1.78), (342.7, -2.04), (343.7, -1.86),
         (344.6, -1.49), (345.5, -0.88), (346.4, -0.43), (347.4, -0.55), (348.3, -0.31), (349.2, -0.14), (350.2, 0.53),
         (351.1, -0.1), (352, -0.02), (352.9, 0.47), (353.9, 0.88), (354.8, 1.08), (355.7, 1.37), (356.7, 0.88),
         (357.6, 0.47), (358.5, 0.43), (359.4, 0.31), (360.4, -0.35), (361.3, -1.17), (362.2, -0.96), (363.2, -0.92),
         (364.1, -1.17), (365, -1.9), (370.3, -1.9)]

B_pos = [p for p, v in B_pts]; B_hyd = [v for p, v in B_pts]
C_pos = [p for p, v in C_pts]; C_hyd = [v for p, v in C_pts]
D_pos = [p for p, v in D_pts]; D_hyd = [v for p, v in D_pts]
E_pos = [p for p, v in E_pts]; E_hyd = [v for p, v in E_pts]
F_pos = [p for p, v in F_pts]; F_hyd = [v for p, v in F_pts]

# ---------------- layout (pixel geometry) ----------------
W, H = 1381, 794
LINE = "#4878ab"
FONT = "Arial, Liberation Sans, Helvetica, sans-serif"


def fx(p):
    return p / W


def fy(p):
    return 1 - p / H


panels = [
    dict(pos=A_pos, val=A_hyd, L=45, R=455, T=28, B=375, xr=[0, 179.6], yr=[-2.4, 1.36], ylo=-2.4, yhi=1.2,
         xdt=20, xmn=5, ylab=12, letter=(28, 25), box=(7.5, 457.5, 7.5, 400)),
    dict(pos=B_pos, val=B_hyd, L=502, R=894, T=30, B=365, xr=[0, 380], yr=[-2.8, 1.507], ylo=-2.8, yhi=1.4,
         xdt=50, xmn=10, ylab=470, letter=(482, 21), box=(463, 908.5, 7.5, 400)),
    dict(pos=C_pos, val=C_hyd, L=956, R=1357, T=27.7, B=371.7, xr=[0, 289], yr=[-2.8, 1.295], ylo=-2.8, yhi=1.2,
         xdt=50, xmn=10, ylab=924, letter=(929, 22), box=(914.5, 1366.5, 7.5, 400)),
    dict(pos=D_pos, val=D_hyd, L=58.3, R=445.3, T=430, B=769.3, xr=[0, 380.5], yr=[-2.8, 1.515], ylo=-2.8,
         yhi=1.4, xdt=50, xmn=10, ylab=27, letter=(28, 419), box=(7.5, 457.5, 402, 792)),
    dict(pos=E_pos, val=E_hyd, L=501.7, R=902.7, T=425, B=769, xr=[0, 320.8], yr=[-2.4, 1.345], ylo=-2.4,
         yhi=1.2, xdt=50, xmn=10, ylab=468, letter=(479, 419), box=(462.5, 912.5, 402, 792)),
    dict(pos=F_pos, val=F_hyd, L=952, R=1360.3, T=424.3, B=766.7, xr=[0, 381.6], yr=[-2.8, 1.40], ylo=-2.8,
         yhi=1.2, xdt=50, xmn=10, ylab=918, letter=(932, 419), box=(914.5, 1367, 402, 792)),
]

fig = go.Figure()
annotations = []
shapes = []
axis_font = dict(family=FONT, size=9, color="#333333")

for i, p in enumerate(panels):
    n = i + 1
    xa = "x" if n == 1 else f"x{n}"
    ya = "y" if n == 1 else f"y{n}"
    fig.add_trace(go.Scatter(x=p["pos"], y=p["val"], mode="lines", xaxis=xa, yaxis=ya,
                             line=dict(color=LINE, width=1), showlegend=False, hoverinfo="skip"))

    nt = int(round((p["yhi"] - p["ylo"]) / 0.2)) + 1
    yv = [round(p["ylo"] + 0.2 * k, 1) for k in range(nt)]
    yt = [f"{v + 0.0:.1f}" for v in yv]

    common = dict(showline=True, linecolor="#555555", linewidth=1, mirror=True, ticks="outside",
                  tickcolor="#444444", tickwidth=1, tickfont=axis_font, zeroline=False,
                  showgrid=True, gridcolor="#c4c4c4", gridwidth=1, griddash="2px,2px", fixedrange=True)
    xkey = "xaxis" if n == 1 else f"xaxis{n}"
    ykey = "yaxis" if n == 1 else f"yaxis{n}"
    fig.layout[xkey] = dict(common, domain=[fx(p["L"]), fx(p["R"])], anchor=ya, range=p["xr"],
                            tickmode="linear", tick0=0, dtick=p["xdt"], ticklen=4,
                            minor=dict(tickmode="linear", tick0=0, dtick=p["xmn"], ticks="outside", ticklen=4,
                                       tickcolor="#444444", showgrid=False))
    fig.layout[ykey] = dict(common, domain=[fy(p["B"]), fy(p["T"])], anchor=xa, range=p["yr"],
                            tickmode="array", tickvals=yv, ticktext=yt, ticklen=5,
                            minor=dict(tickmode="linear", tick0=0, dtick=0.05, ticks="outside", ticklen=3,
                                       tickcolor="#444444", showgrid=False))

    cx = (p["L"] + p["R"]) / 2
    # panel title
    annotations.append(dict(x=fx(cx), y=fy(p["T"] - 9), xref="paper", yref="paper", text=TITLES[i],
                            showarrow=False, xanchor="center", yanchor="middle",
                            font=dict(family=FONT, size=8, color="#222222")))
    # axis titles
    annotations.append(dict(x=fx(p["ylab"]), y=fy((p["T"] + p["B"]) / 2), xref="paper", yref="paper",
                            text="Hydrophobicity", textangle=-90, showarrow=False, xanchor="center",
                            yanchor="middle", font=dict(family=FONT, size=9, color="#333333")))
    annotations.append(dict(x=fx(cx), y=fy(p["B"] + 21), xref="paper", yref="paper", text="Position",
                            showarrow=False, xanchor="center", yanchor="middle",
                            font=dict(family=FONT, size=9, color="#333333")))
    # panel letter
    annotations.append(dict(x=fx(p["letter"][0]), y=fy(p["letter"][1]), xref="paper", yref="paper",
                            text=f"<b>{LETTERS[i]}</b>", showarrow=False, xanchor="center", yanchor="middle",
                            font=dict(family="Liberation Serif, DejaVu Serif, serif", size=25, color="#000000")))
    # blue panel frame
    x0, x1, y0, y1 = p["box"]
    shapes.append(dict(type="rect", xref="paper", yref="paper", x0=fx(x0), x1=fx(x1), y0=fy(y1), y1=fy(y0),
                       line=dict(color="#2f7fd0", width=2), fillcolor="rgba(0,0,0,0)", layer="above"))

fig.update_layout(width=W, height=H, margin=dict(l=0, r=0, t=0, b=0), paper_bgcolor="white",
                  plot_bgcolor="white", annotations=annotations, shapes=shapes, showlegend=False)

fig.write_html("out.html", config=dict(displayModeBar=False, staticPlot=True))
